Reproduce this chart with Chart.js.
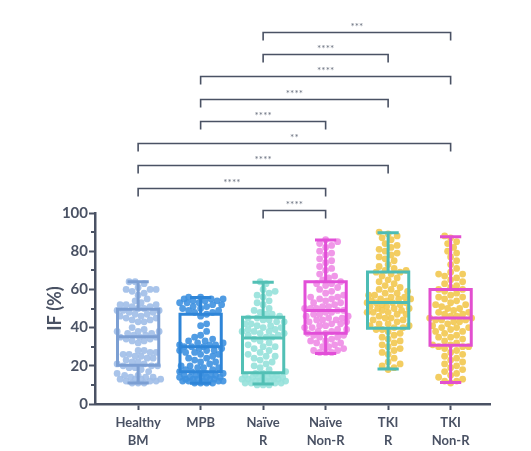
<!DOCTYPE html>
<html>
<head>
<meta charset="utf-8">
<script src="https://cdn.jsdelivr.net/npm/chart.js@4"></script>
<style>
  html, body { margin: 0; padding: 0; background: #fff; }
  #wrap { position: relative; width: 531px; height: 451px; }
</style>
</head>
<body>
<div id="wrap"><canvas id="chart"></canvas></div>
<script>
// groups along the x axis
const categories = [["Healthy", "BM"], ["MPB"], ["Naïve", "R"], ["Naïve", "Non-R"], ["TKI", "R"], ["TKI", "Non-R"]];

// individual IF (%) values per group
const healthyBM = [64,64,63,61,60,60,60,59,58,57,55,54,53,52,52,52,51,51,50,50,49,49,49,48,48,47,47,46,46,45,45,44,44,43,43,40,39,38,38,38,37,37,36,36,35,35,35,34,34,33,33,32,28,28,27,27,26,26,25,25,24,24,23,22,22,21,21,20,20,20,19,19,18,17,16,15,15,14,14,14,13,13,13,13,12,12,12,11,11,11];
const mpb = [56,56,55,55,55,54,54,54,53,53,53,52,52,51,51,50,50,49,49,48,48,47,46,42,41,38,36,35,34,33,33,32,32,31,31,30,30,30,29,29,28,28,27,27,26,25,24,24,22,22,21,20,20,19,19,18,18,17,17,16,16,15,15,15,14,14,14,14,13,13,13,13,12,12,12,12,11,11,11,11,15,16,13,12,23,26,28,31,19,14];
const naiveR = [64,63,60,59,58,57,56,54,53,52,50,49,48,47,46,45,45,44,44,43,43,42,42,41,41,40,40,39,39,38,38,37,37,36,35,34,33,32,31,30,29,28,27,26,25,24,23,22,21,20,19,18,17,16,15,15,14,14,14,13,13,13,13,12,12,12,12,11,11,11,11,10,10,10,12,13,14,15,16,25,30,35,38,47,36];
const naiveNonR = [86,85,84,83,82,80,79,78,76,75,74,72,71,70,68,67,66,65,64,63,63,62,61,60,59,58,57,56,55,55,54,53,53,52,51,51,50,50,49,49,48,48,47,47,46,46,45,45,44,44,43,43,42,42,41,41,40,40,39,39,38,38,37,37,36,35,35,34,33,33,32,31,30,30,29,28,28,27,27,27,32,36,44,50,56];
const tkiR = [90,89,88,87,86,84,83,82,81,80,79,78,77,76,75,73,72,71,70,70,69,69,68,67,66,65,64,63,62,61,60,60,59,58,58,57,57,56,56,55,55,54,54,53,53,53,52,52,51,51,50,50,49,49,48,48,47,47,46,45,45,44,44,43,42,42,41,41,40,40,39,39,38,37,36,35,34,33,32,31,30,29,28,27,26,24,22,21,20,19,18,53,55,50,48];
const tkiNonR = [88,87,85,84,82,80,79,77,75,73,71,69,68,68,67,66,65,64,63,62,61,60,60,59,58,57,56,55,54,53,52,52,51,50,50,49,48,48,47,47,46,45,45,44,44,43,43,42,41,40,40,39,38,38,37,36,35,35,34,33,32,31,31,30,30,30,29,28,27,26,25,24,23,22,21,20,19,18,17,16,15,14,13,12,12,11,46,44,56,40];

// box plot summaries: min, q1, median, q3, max
const boxMin    = [11.0, 10.8, 10.5, 26.5, 18.3, 11.2];
const boxQ1     = [20.3, 16.9, 16.4, 37.0, 39.6, 30.7];
const boxMedian = [35.2, 30.0, 34.6, 48.9, 53.2, 45.0];
const boxQ3     = [49.6, 47.0, 45.4, 64.0, 69.1, 60.0];
const boxMax    = [64.0, 55.7, 63.7, 85.9, 89.7, 87.6];

// significance brackets (group a vs group b), bottom to top
const compareA = [2, 0, 0, 0, 1, 1, 1, 2, 2];
const compareB = [3, 3, 4, 5, 3, 4, 5, 4, 5];
const compareStars = ["****", "****", "****", "**", "****", "****", "****", "****", "***"];

const yTicks = [0, 20, 40, 60, 80, 100];

const groups = [healthyBM, mpb, naiveR, naiveNonR, tkiR, tkiNonR];
const dotColors = ["rgba(160,190,232,0.9)", "rgba(62,145,224,0.9)", "rgba(150,225,218,0.9)",
                   "rgba(238,140,230,0.9)", "rgba(242,200,80,0.9)", "rgba(242,200,80,0.9)"];
const boxColors = ["#7c9fd3", "#2e85d8", "#52c0b5", "#e24fd8", "#4cbcb5", "#e24fcf"];
const axisColor = "#4a5264";

// box/whisker + significance bracket drawing
const boxPlugin = {
  id: "boxes",
  afterDatasetsDraw(chart) {
    const { ctx, scales: { x, y } } = chart;
    const unit = x.getPixelForValue(1) - x.getPixelForValue(0);
    const halfBox = unit * 0.33, halfCap = unit * 0.17;
    ctx.save();
    ctx.lineWidth = 3;
    ctx.lineCap = "butt";
    boxMedian.forEach((med, i) => {
      const cx = x.getPixelForValue(i);
      const top = y.getPixelForValue(boxQ3[i]);
      const bot = y.getPixelForValue(boxQ1[i]);
      const hi = y.getPixelForValue(boxMax[i]);
      const lo = y.getPixelForValue(boxMin[i]);
      const m = y.getPixelForValue(med);
      ctx.strokeStyle = boxColors[i];
      ctx.beginPath();
      ctx.rect(cx - halfBox, top, halfBox * 2, bot - top);
      ctx.moveTo(cx - halfBox, m); ctx.lineTo(cx + halfBox, m);
      ctx.moveTo(cx, top); ctx.lineTo(cx, hi);
      ctx.moveTo(cx - halfCap, hi); ctx.lineTo(cx + halfCap, hi);
      ctx.moveTo(cx, bot); ctx.lineTo(cx, lo);
      ctx.moveTo(cx - halfCap, lo); ctx.lineTo(cx + halfCap, lo);
      ctx.stroke();
    });
    ctx.restore();
  },
  afterDraw(chart) {
    const { ctx, chartArea, scales: { x, y } } = chart;
    ctx.save();
    // minor ticks on the y axis
    ctx.strokeStyle = axisColor;
    ctx.lineWidth = 2;
    for (let v = 10; v < 100; v += 20) {
      const py = Math.round(y.getPixelForValue(v));
      ctx.beginPath();
      ctx.moveTo(chartArea.left - 4, py);
      ctx.lineTo(chartArea.left, py);
      ctx.stroke();
    }
    // brackets
    ctx.lineWidth = 1.6;
    ctx.font = "10px Lato, sans-serif";
    ctx.fillStyle = "#6b7280";
    ctx.textAlign = "center";
    ctx.textBaseline = "alphabetic";
    compareA.forEach((a, k) => {
      const x1 = x.getPixelForValue(a);
      const x2 = x.getPixelForValue(compareB[k]);
      const ly = Math.round(chartArea.top - 3 - k * 22.3) + 0.5;
      ctx.beginPath();
      ctx.moveTo(x1, ly + 8);
      ctx.lineTo(x1, ly);
      ctx.lineTo(x2, ly);
      ctx.lineTo(x2, ly + 8);
      ctx.stroke();
      ctx.fillText(compareStars[k], (x1 + x2) / 2, ly - 3);
    });
    ctx.restore();
  }
};

const chart = new Chart(document.getElementById("chart"), {
  type: "scatter",
  data: {
    datasets: groups.map((vals, i) => ({
      data: vals.map(v => ({ x: i, y: v })),
      backgroundColor: dotColors[i],
      borderWidth: 0,
      pointRadius: 3.4,
      pointHoverRadius: 3.4
    }))
  },
  options: {
    responsive: true,
    maintainAspectRatio: false,
    animation: false,
    layout: { padding: { top: 213, right: 41, left: 0, bottom: 0 } },
    plugins: { legend: { display: false }, tooltip: { enabled: false } },
    scales: {
      x: {
        type: "linear",
        min: -0.69,
        max: 5.63,
        afterFit: s => { s.height = 47; },
        afterBuildTicks: s => { s.ticks = categories.map((_, i) => ({ value: i })); },
        border: { color: axisColor, width: 2.5 },
        grid: { drawOnChartArea: false, tickLength: 6, tickColor: axisColor, tickWidth: 2 },
        ticks: {
          autoSkip: false,
          maxRotation: 0,
          padding: 4,
          color: axisColor,
          font: { family: "Lato, sans-serif", size: 13, weight: "bold", lineHeight: 1.35 },
          callback: v => categories[v]
        }
      },
      y: {
        min: 0,
        max: 100,
        afterFit: s => { s.width = 95; },
        afterBuildTicks: s => { s.ticks = yTicks.map(v => ({ value: v })); },
        border: { color: axisColor, width: 2.5 },
        grid: { drawOnChartArea: false, tickLength: 6, tickColor: axisColor, tickWidth: 2 },
        ticks: {
          padding: 1,
          color: axisColor,
          font: { family: "Lato, sans-serif", size: 15, weight: "bold" }
        },
        title: {
          display: true,
          text: "IF (%)",
          color: axisColor,
          padding: { top: 44, bottom: 0 },
          font: { family: "Lato, sans-serif", size: 18, weight: "bold" }
        }
      }
    }
  },
  plugins: [boxPlugin]
});

// spread dots sideways (beeswarm) so they do not pile up on the category line
function swarm() {
  const xs = chart.scales.x, ys = chart.scales.y;
  const dia = 6, step = 1.5, maxOff = 22;
  chart.data.datasets.forEach((ds, gi) => {
    const cx = xs.getPixelForValue(gi);
    const placed = [];
    const sorted = groups[gi].slice().sort((a, b) => a - b);
    ds.data = sorted.map(v => {
      const py = ys.getPixelForValue(v);
      let chosen = 0, bestScore = Infinity;
      for (let k = 0; k <= 2 * maxOff / step; k++) {
        const off = (k % 2 ? 1 : -1) * Math.ceil(k / 2) * step;
        let minD = Infinity;
        for (const p of placed) {
          const d = Math.hypot(p[0] - off, p[1] - py);
          if (d < minD) minD = d;
        }
        if (minD >= dia) { chosen = off; bestScore = -1; break; }
        const score = -minD;
        if (score < bestScore) { bestScore = score; chosen = off; }
      }
      placed.push([chosen, py]);
      return { x: xs.getValueForPixel(cx + chosen), y: v };
    });
  });
  chart.update("none");
}
swarm();
</script>
</body>
</html>
